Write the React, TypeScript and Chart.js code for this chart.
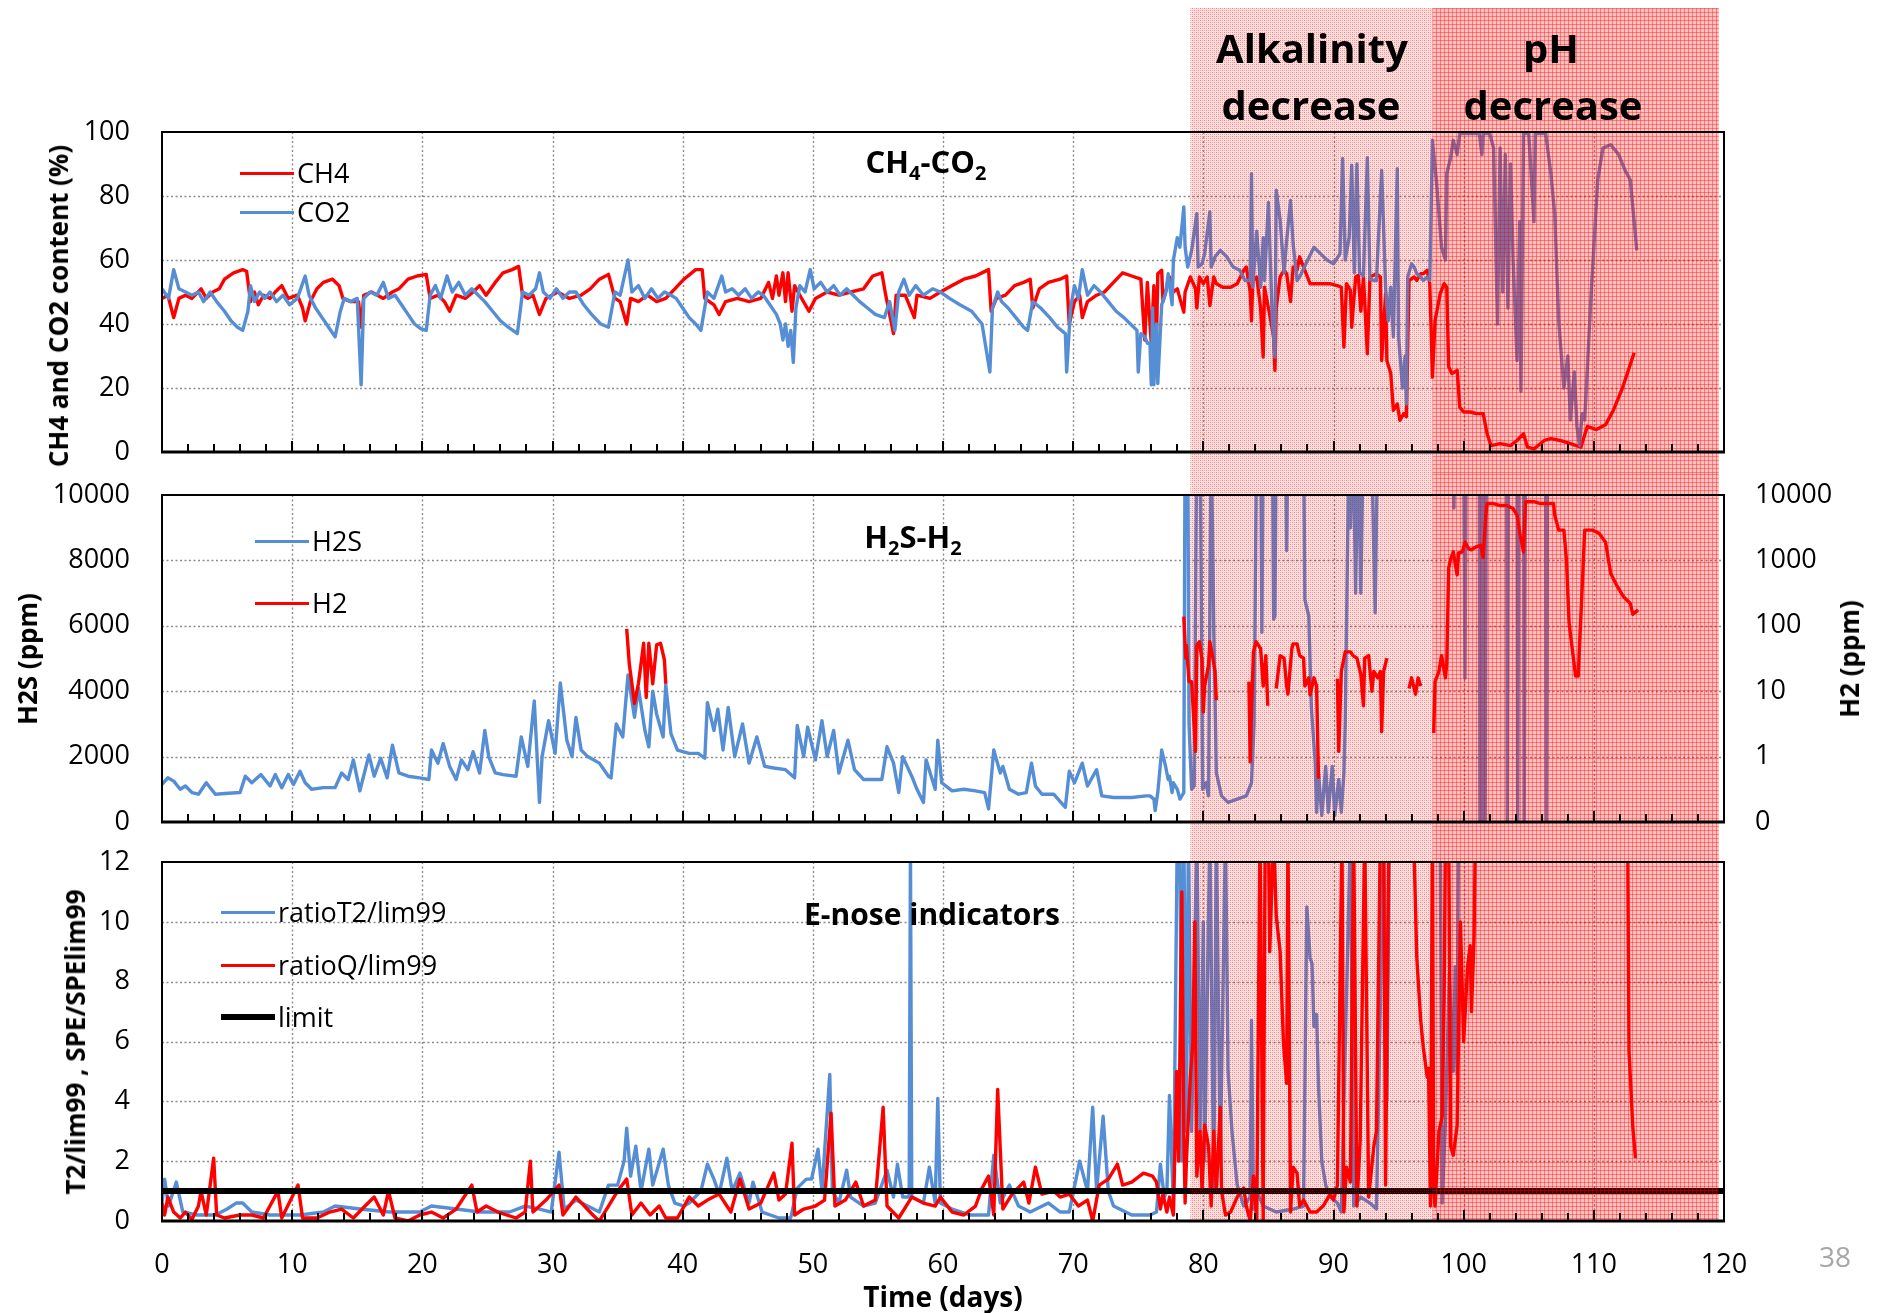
import React, { useEffect, useRef } from 'react';
import { Chart, registerables } from 'chart.js';

Chart.register(...registerables);

// ---------------- data ----------------
const X_MIN = 0;
const X_MAX = 120;
const X_STEP = 10;
const ALK_START = 79.0;
const ALK_END = 97.6;
const PH_END = 119.6;
const LIMIT_VALUE = 1;

const CH4_Y_TICKS = { min: 0, max: 100, step: 20 };
const H2S_Y_TICKS = { min: 0, max: 10000, step: 2000 };
const H2_LOG_TICKS = [0.1, 1, 10, 100, 1000, 10000];
const ENOSE_Y_TICKS = { min: 0, max: 12, step: 2 };

type P = [number, number | null];

const CH4: P[] = [
  [0,48],[0.45,49],[0.9,42],[1.3,48],[1.8,49],[2.3,48],[3.0,51],[3.4,48],[3.9,50],[4.4,51],[4.8,54],[5.5,56],[6.2,57],[6.5,56.5],[6.8,47],[7.1,50],[7.4,46],[7.8,49],[8.3,48],[8.7,50],[9.2,52],[9.7,48],[10.4,49],[10.8,45],[11.0,41],[11.4,47],[11.9,51],[12.4,53],[13.1,54],[13.6,52],[13.9,48],[14.5,47],[15.1,47],[15.3,39],[15.5,49],[16.1,50],[17.0,48],[17.7,50],[18.2,51],[18.9,54],[19.6,55],[20.3,55.5],[20.6,48],[21.2,49],[21.7,47],[22.1,44],[22.6,49],[23.3,48],[23.9,50],[24.4,52],[24.9,49],[25.6,53],[26.2,56],[26.9,57],[27.4,58],[27.7,49],[28.1,48],[28.5,49],[29.0,43],[29.5,48],[30.4,50],[31.3,48],[32.2,49],[32.9,51],[33.6,54],[34.3,55.5],[34.8,48],[35.2,47],[35.7,40],[36.0,48],[36.6,47],[37.3,49],[38.0,47],[38.7,48],[39.4,51],[40.1,54],[41.0,57],[41.5,57],[41.7,48],[42.4,46],[42.8,43],[43.3,47],[44.2,48],[45.1,47],[46.0,48],[46.6,53],[46.9,48],[47.2,55],[47.4,49],[47.7,56],[47.9,47],[48.1,56],[48.4,44],[48.6,52],[49.0,49],[49.7,44],[50.2,48],[51.1,50],[52.0,49],[52.9,50],[53.9,51],[54.6,55],[55.3,56],[55.6,49],[56.2,37],[56.4,49],[57.1,49],[57.8,42],[58.0,49],[59.0,48],[59.8,50],
  [60.7,52],[61.6,54],[62.5,55],[63.5,57],[63.7,44],[64.1,48],[64.8,49],[65.5,52],[66.2,53],[66.7,54],[66.9,45],[67.4,51],[68.1,53],[69.0,54],[69.5,55],[69.7,40],[70.1,47],[70.5,49],[70.7,42],[71.1,47],[71.8,49],[72.4,50],[73.1,53],[73.8,56],[74.5,55],[75.2,54],[75.5,35],[75.7,53],[76.0,34],[76.2,52],[76.4,34],[76.5,55.7],[76.8,56.8],[76.9,47],[77.2,51.5],[77.4,54.7],[77.7,50],[78.0,51],[78.2,48],[78.5,43.7],[78.6,50],[79.0,54.7],[79.4,51],[79.5,45],[79.7,54.7],[80.0,52.6],[80.3,54.7],[80.5,45.8],[80.8,54.7],[81.0,52.6],[81.5,51.5],[82.1,51.5],[82.6,52.6],[83.1,56.8],[83.3,57.8],[83.6,50],[83.7,41],[83.8,53.6],[84.1,54.7],[84.4,45],[84.6,29.7],[84.7,51.5],[85.0,45],[85.4,36],[85.5,25.5],[85.6,45],[85.9,54.7],[86.2,56.8],[86.4,55.7],[86.7,47],[86.9,57.8],[87.2,56.8],[87.4,61],[87.7,57.8],[87.9,55.7],[88.2,52.6],[88.7,52.6],[89.2,52.6],[89.7,52.6],[90.3,52],[90.6,51.5],[90.8,32.8],[91.0,52.6],[91.3,50.5],[91.4,39],[91.7,54.7],[91.9,55.2],[92.1,44],[92.3,54.7],[92.6,30.7],[92.8,54.7],[93.3,55.7],[93.6,54.7],[93.7,28.6],[94.0,49.5],[94.1,28.6],[94.4,24.5],[94.6,13],[94.9,15],[95.1,9.9],[95.4,12],[95.6,11],[95.8,53.6],[96.2,54.7],[96.4,53.6],[96.7,55.7],[96.9,55.7],[97.2,56.8],[97.4,52.6],[97.6,23.4],[97.8,41],[98.2,49.5],[98.5,52.6],[98.7,51.5],[98.85,26.6],[99.1,24.5],[99.5,25.5],[99.7,14],[100.0,12.5],[100.5,12.5],[101.0,12],[101.5,12],[101.8,5.7],[102.1,2],[102.8,2.6],[103.6,2],[104.1,3.6],[104.6,5.7],[104.9,1.5],[105.4,1],[106.2,3.6],[106.7,4.2],[107.4,3.6],[108.2,2.6],[109.0,1.5],[109.5,8],[110.2,7],[110.9,8.5],[111.5,13],[112.2,20],[113.1,31]
];

const CO2: P[] = [
  [0,51],[0.5,48],[0.9,57],[1.3,51],[1.8,50],[2.3,49],[2.8,50],[3.2,47],[3.7,50],[4.2,47],[4.8,44],[5.3,41],[5.8,39],[6.2,38],[6.6,44],[6.8,52],[7.1,47],[7.5,50],[7.9,48],[8.3,50],[8.8,47],[9.3,49],[9.8,46],[10.4,48],[11.0,55],[11.3,49],[11.8,45],[12.3,42],[12.8,39],[13.3,36],[13.7,44],[14.0,48],[14.5,47],[15.0,48],[15.3,21],[15.5,48],[16.0,50],[16.5,49],[17.0,53],[17.4,48],[17.9,49],[18.4,46],[18.9,43],[19.4,40],[19.9,38.5],[20.3,38],[20.6,49],[21.0,52],[21.4,48],[21.9,55],[22.3,50],[22.8,53],[23.3,49],[23.8,51],[24.3,49],[24.8,47],[25.4,44],[26.0,41],[26.6,39],[27.3,37],[27.7,50],[28.2,49],[28.7,51],[29.0,56],[29.3,50],[29.8,48],[30.3,51],[30.8,48],[31.3,50],[31.8,50],[32.4,46],[33.0,43],[33.7,40],[34.3,39],[34.8,50],[35.2,49],[35.8,60],[36.1,50],[36.6,52],[37.1,48],[37.6,51],[38.1,48],[38.6,50],[39.1,49],[39.5,48],[40.0,45],[40.5,42],[41.0,40],[41.4,38],[41.9,50],[42.4,48],[43.0,55],[43.3,50],[43.8,51],[44.3,49],[44.8,51],[45.3,48],[45.8,50],[46.2,49],[46.7,46],[47.2,43],[47.5,40],[47.7,35],[47.9,40],[48.1,33],[48.3,38],[48.5,28],[48.7,45],[49.0,52],[49.4,50],[49.8,57],[50.1,51],[50.6,53],[51.1,50],[51.6,52],[52.1,49],[52.6,51],[53.1,49],[53.6,47],[54.2,45],[54.8,43],[55.5,42],[55.9,47],[56.3,38],[56.6,50],[57.0,54],[57.4,49],[57.9,52],[58.5,49],[59.2,51],[59.8,50],
  [60.5,48],[61.3,46],[62.2,44],[63.0,40],[63.6,25],[63.8,45],[64.2,50],[64.5,47],[65.0,45],[65.6,42],[66.2,39],[66.5,38],[66.9,47],[67.5,45],[68.2,42],[68.8,39],[69.4,37],[69.5,25],[69.8,45],[70.1,52],[70.4,48],[70.7,57],[71.1,49],[71.6,52],[72.1,50],[72.7,47],[73.3,44],[73.9,42],[74.4,40],[74.9,38],[75.0,25],[75.2,37],[75.5,36],[75.7,34],[75.9,34],[76.0,21],[76.1,45],[76.2,21],[76.4,40],[76.5,21.4],[76.8,46],[77.1,49.5],[77.3,55.7],[77.6,46],[77.7,60],[78.0,67],[78.2,64],[78.5,76.6],[78.6,64],[78.8,57.8],[79.1,63],[79.5,74.5],[79.6,57.8],[79.9,58.8],[80.1,62],[80.5,75],[80.6,57.8],[80.9,61],[81.3,63],[81.8,61],[82.3,57.8],[82.8,56.8],[83.2,53.6],[83.6,53.6],[83.7,87],[83.8,51.5],[84.1,69],[84.4,51.5],[84.6,67],[84.7,53.6],[85.0,78],[85.3,41],[85.5,29.7],[85.6,81.8],[85.9,72.5],[86.2,56],[86.4,66],[86.7,78.6],[86.9,65],[87.2,53.6],[87.4,54.7],[87.9,59],[88.5,64],[89.0,62],[89.5,60],[90.0,58.8],[90.5,62],[90.7,91.7],[90.9,60],[91.2,67],[91.4,89.6],[91.6,56],[91.8,90],[92.0,56],[92.3,55],[92.6,92],[92.8,54],[93.1,53.6],[93.3,53.6],[93.7,88],[94.0,51.5],[94.2,41],[94.4,51.5],[94.6,36],[94.9,88.5],[95.0,36],[95.3,20],[95.5,30],[95.6,15],[95.7,54.7],[96.0,58.8],[96.2,57.8],[96.4,55.7],[96.7,54.7],[96.9,53.6],[97.2,54.7],[97.4,53.6],[97.6,97.4],[97.9,85],[98.3,64],[98.6,60],[98.7,87],[99.0,92],[99.2,97.4],[99.5,93],[99.7,99.5],[100.5,99.5],[101.2,99.5],[101.4,93],[101.5,99.5],[102.0,99.5],[102.3,95],[102.6,40],[102.8,95],[103.0,50],[103.2,93],[103.4,45],[103.6,90],[103.8,60],[104.1,28.6],[104.3,72],[104.4,19],[104.6,99.5],[105.0,99.5],[105.4,72],[105.5,99.5],[106.0,99.5],[106.3,99.5],[106.7,87],[107.0,74],[107.3,41],[107.7,20],[108.0,30],[108.2,10],[108.5,25],[108.7,8],[108.9,2],[109.1,12],[109.3,10],[109.8,50],[110.3,85],[110.7,95],[111.3,96],[111.9,93],[112.4,88],[112.8,85],[113.3,63]
];

const H2S: P[] = [
  [0,1150],[0.45,1350],[0.9,1250],[1.4,1000],[1.8,1100],[2.3,900],[2.8,850],[3.4,1200],[4.1,850],[5.1,880],[6.0,900],[6.4,1400],[6.9,1200],[7.6,1450],[8.3,1100],[8.7,1450],[9.2,1050],[9.7,1450],[10.1,1150],[10.6,1550],[11.0,1200],[11.5,1000],[12.4,1050],[13.3,1050],[13.8,1500],[14.3,1300],[14.7,1900],[15.2,950],[15.9,2050],[16.3,1400],[16.8,1950],[17.3,1350],[17.7,2350],[18.2,1500],[18.9,1400],[19.8,1350],[20.5,1300],[20.7,2200],[21.2,1800],[21.6,2400],[22.1,1700],[22.6,1300],[23.0,1900],[23.5,1600],[23.9,2150],[24.4,1500],[24.8,2800],[25.1,2000],[25.6,1500],[26.2,1450],[27.2,1400],[27.6,2600],[28.1,1700],[28.6,3700],[29.0,600],[29.2,2000],[29.7,3100],[30.2,2100],[30.6,4250],[31.1,2500],[31.5,2000],[31.8,3200],[32.2,2200],[32.7,2000],[33.6,1800],[34.3,1400],[34.5,1350],[34.9,3000],[35.4,2600],[35.8,4500],[36.3,3200],[36.6,4100],[37.1,2800],[37.4,2300],[37.7,4000],[38.0,3300],[38.5,2600],[38.7,4200],[39.1,2700],[39.6,2200],[40.5,2100],[41.2,2100],[41.7,1950],[41.9,3650],[42.4,2800],[42.7,3450],[43.1,2200],[43.5,3500],[44.0,2000],[44.6,3000],[45.1,1800],[45.7,2600],[46.3,1700],[47.0,1650],[47.9,1600],[48.6,1350],[48.8,2950],[49.3,2000],[49.6,2900],[50.2,1900],[50.7,3100],[51.1,2000],[51.6,2800],[52.0,1500],[52.7,2500],[53.2,1600],[53.9,1300],[55.3,1300],[55.7,2300],[56.2,1800],[56.6,900],[56.9,2000],[57.6,1400],[58.0,1000],[58.5,600],[58.7,1900],[59.4,1000],[59.6,2500],
  [59.9,1200],[60.7,950],[61.6,1000],[62.5,950],[63.2,900],[63.5,400],[63.9,2200],[64.4,1500],[64.6,1700],[65.1,1000],[65.8,850],[66.4,900],[66.8,1800],[67.1,1100],[67.6,850],[68.5,850],[69.4,450],[69.7,1550],[70.1,1200],[70.7,1800],[71.1,1100],[71.8,1600],[72.2,800],[73.1,750],[74.5,750],[75.6,800],[75.9,800],[76.2,700],[76.3,350],[76.5,900],[76.8,2200],[77.1,1700],[77.3,1300],[77.4,1400],[77.6,900],[77.7,1200],[78.0,1000],[78.2,700],[78.5,900],[78.6,12000],[78.8,12000],[78.9,3000],[79.1,1000],[79.3,1100],[79.5,12000],[79.75,12000],[79.95,1000],[80.2,1200],[80.4,800],[80.6,12000],[80.8,6000],[81.0,1500],[81.4,800],[81.9,600],[82.6,700],[83.3,800],[83.7,1200],[83.9,3000],[84.1,12000],[84.4,12000],[84.5,5800],[84.6,12000],[85.3,12000],[85.4,6200],[85.5,6300],[85.6,12000],[86.3,12000],[86.4,8300],[86.5,12000],[87.7,12000],[87.8,6800],[88.1,6300],[88.3,3500],[88.6,1800],[88.7,300],[88.85,1500],[89.1,200],[89.4,1700],[89.6,300],[89.9,1700],[90.1,200],[90.4,1300],[90.6,300],[90.8,1500],[90.9,3000],[91.2,12000],[91.3,9000],[91.5,12000],[91.7,7000],[91.9,12000],[92.1,7000],[92.3,12000],[92.9,12000],[93.2,6400],[93.4,12000],[99.2,12000],[99.25,9600],[99.3,12000],[100.0,12000],[100.1,4400],[100.2,12000],[101.2,12000],[101.25,0],[101.35,12000],[101.45,0],[101.55,12000],[101.65,0],[101.75,12000],[103.3,12000],[103.35,0],[103.45,12000],[104.1,12000],[104.15,0],[104.25,12000],[104.6,12000],[104.65,0],[104.75,12000],[106.3,12000],[106.35,0],[106.45,12000],[113.5,12000]
];

const H2: P[] = [
  [35.7,90],[35.9,26],[36.3,6.5],[36.6,13],[36.8,26],[37.0,54],[37.2,8],[37.4,54],[37.7,13],[38.0,51],[38.3,54],[38.6,30],[38.7,13],[38.8,null],
  [78.5,138],[78.65,32],[78.7,50],[78.9,14],[79.1,14],[79.4,1.2],[79.5,50],[79.7,57],[79.9,30],[80.0,4.8],[80.1,12],[80.4,25],[80.5,57],[80.7,35],[80.9,20],[81.0,7.3],[81.1,null],
  [83.5,14],[83.6,0.83],[83.7,4.8],[83.85,40],[84.05,57],[84.4,45],[84.6,12],[84.8,35],[84.95,6],[85.0,null],
  [85.6,11],[85.9,35],[86.2,32],[86.4,12],[86.5,9],[86.8,45],[86.9,53],[87.2,53],[87.4,35],[87.7,32],[87.8,12],[88.1,16],[88.2,8.8],[88.5,16],[88.7,12],[88.85,0.46],[88.9,null],
  [90.3,15.5],[90.4,1.2],[90.6,20],[90.9,40],[91.3,40],[91.5,35],[91.8,32],[92.1,18],[92.3,6],[92.4,32],[92.7,35],[92.95,10],[93.1,20],[93.4,16],[93.6,20],[93.7,2.4],[93.85,20],[94.1,32],[94.2,null],
  [95.8,11],[96.0,16],[96.3,9],[96.5,16],[96.7,12],[96.8,null],
  [97.7,2.3],[97.8,14],[98.1,20],[98.3,35],[98.6,16],[98.7,26],[98.85,760],[99.0,1050],[99.2,1350],[99.5,600],[99.6,1300],[99.9,1350],[100.1,1900],[100.4,1500],[100.6,1450],[100.9,1600],[101.3,1700],[101.5,1100],[101.7,4900],[101.8,7400],[102.3,7400],[102.8,6900],[103.3,6900],[103.8,6200],[104.1,4900],[104.35,2400],[104.6,1350],[104.75,7900],[105.4,7900],[105.9,7400],[106.4,7400],[106.9,7400],[107.0,4900],[107.3,2900],[107.7,2900],[107.9,1000],[108.1,110],[108.6,17],[108.8,17],[109.3,2900],[109.9,2900],[110.4,2600],[110.9,1900],[111.3,630],[111.8,400],[112.3,275],[112.8,220],[113.0,150],[113.4,175]
];

const T2: P[] = [
  [0,0.6],[0.2,1.4],[0.5,0.5],[1.1,1.3],[1.6,0.3],[2.7,0.2],[4.1,0.2],[5.0,0.4],[5.7,0.6],[6.2,0.6],[6.9,0.3],[8.3,0.2],[10.6,0.2],[12.4,0.3],[13.3,0.5],[15.2,0.4],[17.5,0.3],[19.8,0.3],[20.7,0.5],[22.6,0.4],[24.4,0.3],[26.7,0.3],[27.9,0.5],[29.0,0.4],[29.9,0.3],[30.5,2.3],[30.9,0.4],[31.8,0.7],[32.7,0.5],[33.6,0.3],[34.3,1.2],[35.0,1.2],[35.5,2.0],[35.7,3.1],[36.0,1.5],[36.4,2.5],[36.8,1.0],[37.4,2.4],[37.7,1.2],[38.5,2.4],[38.9,1.2],[39.4,0.6],[40.1,0.5],[40.5,0.6],[41.4,1.0],[41.9,1.9],[42.4,1.4],[42.8,0.9],[43.4,2.1],[43.8,1.0],[44.4,1.6],[45.1,0.6],[45.4,1.3],[46.1,0.3],[47.4,0.1],[48.3,0.1],[48.8,1.1],[49.5,1.4],[49.9,1.4],[50.4,2.4],[50.7,1.0],[51.3,4.9],[51.5,1.0],[52.0,0.6],[52.6,1.7],[52.9,0.8],[53.9,0.5],[54.8,0.6],[55.7,1.7],[56.2,0.8],[56.5,1.9],[56.9,0.8],[57.4,0.8],[57.5,12.5],[57.6,0.8],[58.5,0.6],[58.95,1.8],[59.4,0.6],[59.6,4.1],[59.8,0.6],[60.7,0.4],[62.1,0.2],[63.5,0.2],[63.9,2.2],[64.4,0.6],[65.1,1.2],[65.8,0.5],[66.7,0.3],[68.1,0.6],[69.0,0.3],[69.7,0.3],[70.5,2.0],[71.1,1.0],[71.5,3.8],[71.8,1.0],[72.3,3.5],[72.7,1.0],[73.1,0.5],[74.5,0.2],[75.9,0.2],[76.4,0.3],[76.7,1.9],[77.0,0.8],[77.2,1.0],[77.4,4.2],[77.7,0.5],
  [78.0,13],[78.2,13],[78.35,2],[78.5,13],[78.7,3],[78.85,13],[79.1,3],[79.5,13],[79.75,3],[80.0,10],[80.1,2],[80.5,13],[80.8,1],[81.0,13],[81.3,2],[81.7,13],[81.9,5],[82.2,3],[82.6,1.2],[83.1,0.5],[83.6,0.8],[83.7,6.7],[83.85,0.4],[84.1,1],[84.6,0.5],[85.6,0.3],[86.9,0.4],[87.7,0.5],[87.95,10.5],[88.2,8.8],[88.35,8.6],[88.5,6.5],[88.7,6.9],[88.85,4.5],[89.1,2],[89.4,1.2],[89.75,0.8],[90.3,0.6],[90.6,0.3],[91.3,13],[91.55,0.5],[92.1,0.8],[92.8,0.6],[93.3,0.4],[93.85,13],[94.1,4],[94.3,13],[98.2,13],[98.35,0.6],[98.6,3.3],[98.9,8.3],[99.2,5],[99.35,8.5],[99.5,4.9],[99.6,13],[113.5,13]
];

const Q: P[] = [
  [0,0.6],[0.2,0.2],[0.45,0.8],[0.9,0.3],[1.4,0.1],[1.8,0.3],[2.3,0.05],[2.8,0.5],[3.0,1.0],[3.4,0.2],[3.97,2.1],[4.2,0.2],[4.8,0.1],[6.0,0.2],[6.9,0.2],[7.8,0.1],[8.9,1.0],[9.2,0.1],[10.45,1.2],[10.8,0.1],[11.9,0.1],[12.9,0.3],[13.8,0.4],[14.7,0.1],[15.6,0.5],[16.3,0.8],[17.0,0.2],[17.4,1.0],[17.9,0.1],[18.9,0.0],[19.8,0.2],[20.7,0.3],[21.6,0.1],[22.6,0.4],[23.8,1.2],[24.2,0.3],[24.9,0.5],[25.8,0.3],[27.2,0.1],[27.9,0.3],[28.3,2.0],[28.5,0.3],[29.5,0.7],[30.5,1.2],[30.8,0.2],[31.8,0.8],[33.1,0.2],[33.6,0.0],[34.3,0.5],[35.0,1.0],[35.7,1.4],[36.1,0.2],[36.8,0.6],[37.5,0.2],[38.2,0.5],[38.7,0.1],[39.6,0.1],[40.5,0.8],[41.2,0.5],[41.9,0.7],[42.8,0.9],[43.7,0.3],[44.4,1.4],[45.1,0.4],[46.0,0.6],[47.0,1.6],[47.4,0.7],[47.9,0.9],[48.4,2.6],[48.6,0.2],[49.3,0.4],[50.2,0.5],[50.9,0.7],[51.4,3.6],[51.7,0.5],[52.5,0.7],[53.3,1.3],[53.9,0.5],[54.8,0.7],[55.4,3.8],[55.7,0.5],[56.6,0.1],[57.6,0.8],[58.5,0.6],[59.4,0.5],[59.8,0.8],[60.7,0.3],[61.6,0.2],[62.5,0.5],[63.0,1.1],[63.5,1.5],[63.9,0.2],[64.2,4.4],[64.6,0.4],[65.3,0.9],[66.2,1.3],[66.6,0.6],[67.1,1.8],[67.6,0.9],[68.5,1.0],[69.0,0.8],[69.7,0.9],[70.4,0.5],[71.1,0.7],[71.5,0.0],[72.0,1.2],[72.7,1.4],[73.4,1.9],[73.8,1.2],[74.5,1.3],[75.4,1.6],[76.1,1.5],[76.4,1.3],[76.7,0.4],[76.9,0.9],[77.2,0.3],[77.4,0.8],[77.7,0.2],
  [77.95,5],[78.1,2],[78.35,11],[78.5,3],[78.6,0.6],[78.7,2],[79.0,4.8],[79.2,6],[79.35,10],[79.5,1.5],[79.75,3],[79.9,1],[80.1,3.2],[80.4,2.5],[80.6,0.5],[80.8,3],[81.0,1],[81.3,3.8],[81.4,1],[81.7,0.2],[82.1,0.3],[82.6,0.8],[83.1,1.1],[83.3,0.5],[83.6,0],[83.85,1.5],[84.1,0],[84.35,13],[84.6,0],[84.75,13],[85.0,13],[85.1,9],[85.4,13],[85.6,10.2],[85.9,9],[86.15,6],[86.4,4.6],[86.5,13],[86.7,0.3],[86.9,1.8],[87.2,1.6],[87.4,0.5],[87.7,0.7],[88.2,0.3],[88.7,0.3],[89.2,0.5],[89.75,0.9],[90.0,0.7],[90.3,1.2],[90.65,13],[90.8,0.3],[91.0,1.8],[91.3,1.3],[91.55,13],[91.8,0.5],[92.05,2.7],[92.4,13],[92.7,0.8],[93.1,2.5],[93.3,3],[93.6,13],[93.85,13],[94.0,1.2],[94.25,13],[96.15,13],[96.4,8.8],[96.7,6.7],[96.9,5.8],[97.2,4.8],[97.3,5.1],[97.45,0.5],[97.6,13],[97.7,1],[97.8,0.5],[98.1,3],[98.35,3.5],[98.5,7.5],[98.6,13],[98.85,13],[99.0,2.5],[99.2,2.2],[99.5,3.2],[99.75,10],[100.0,6],[100.3,8.5],[100.5,9.2],[100.6,7],[100.8,9.5],[100.9,13],[112.6,13],[112.7,5.7],[113.0,3.1],[113.2,2.1]
];

const LIMIT: P[] = [[X_MIN, LIMIT_VALUE], [X_MAX, LIMIT_VALUE]];

// ---------------- styles ----------------
const RED = '#FF0000';
const BLUE = '#558ED5';
const GRID_COLOR = '#8c8c8c';
const W = 1879;
const H = 1313;
const PLOT_LEFT = 162;
const PLOT_RIGHT_GAP = 155;
const TICK_FONT = { family: "'Open Sans', 'Liberation Sans', sans-serif", size: 27 };
const LINE_W = 3.4;

const toXY = (arr: P[]) => arr.map(([x, y]) => ({ x, y }));

let alkPattern: CanvasPattern | null = null;
let phPattern: CanvasPattern | null = null;
function getPatterns(ctx: CanvasRenderingContext2D) {
  if (!alkPattern) {
    const c = document.createElement('canvas');
    c.width = 4; c.height = 4;
    const g = c.getContext('2d')!;
    g.fillStyle = 'rgba(255,0,0,0.12)'; g.fillRect(0, 0, 4, 4);
    g.fillStyle = 'rgba(255,0,0,0.42)'; g.fillRect(0, 0, 1, 1); g.fillRect(2, 2, 1, 1);
    g.fillStyle = 'rgba(255,0,0,0.28)'; g.fillRect(2, 0, 1, 1); g.fillRect(0, 2, 1, 1);
    alkPattern = ctx.createPattern(c, 'repeat');
  }
  if (!phPattern) {
    const c = document.createElement('canvas');
    c.width = 4; c.height = 4;
    const g = c.getContext('2d')!;
    g.fillStyle = 'rgba(255,0,0,0.24)'; g.fillRect(0, 0, 4, 4);
    g.fillStyle = 'rgba(255,0,0,0.38)'; g.fillRect(0, 0, 4, 1); g.fillRect(0, 0, 1, 4);
    phPattern = ctx.createPattern(c, 'repeat');
  }
  return { alk: alkPattern, ph: phPattern };
}

const gridPlugin = {
  id: 'dotGrid',
  beforeDatasetsDraw(chart: any) {
    const { ctx, chartArea: a } = chart;
    const xs = chart.scales.x;
    const ys = chart.scales.y;
    ctx.save();
    ctx.strokeStyle = GRID_COLOR;
    ctx.lineWidth = 1.4;
    ctx.setLineDash([2, 2.5]);
    ctx.beginPath();
    xs.ticks.forEach((t: any) => {
      const p = Math.round(xs.getPixelForValue(t.value)) + 0.5;
      if (p > a.left + 3 && p < a.right - 3) { ctx.moveTo(p, a.top); ctx.lineTo(p, a.bottom); }
    });
    ys.ticks.forEach((t: any) => {
      const p = Math.round(ys.getPixelForValue(t.value)) + 0.5;
      if (p > a.top + 3 && p < a.bottom - 3) { ctx.moveTo(a.left, p); ctx.lineTo(a.right, p); }
    });
    ctx.stroke();
    ctx.restore();
  },
};

const shadePlugin = {
  id: 'shade',
  afterDatasetsDraw(chart: any, _args: any, opts: any) {
    const { ctx, chartArea: a } = chart;
    const xs = chart.scales.x;
    const { alk, ph } = getPatterns(ctx);
    const top = opts.top ?? 0;
    const bottom = opts.toArea ? a.bottom : chart.height;
    const x1 = xs.getPixelForValue(ALK_START);
    const x2 = xs.getPixelForValue(ALK_END);
    const x3 = xs.getPixelForValue(PH_END);
    ctx.save();
    ctx.fillStyle = alk as any;
    ctx.fillRect(x1, top, x2 - x1, bottom - top);
    ctx.fillStyle = ph as any;
    ctx.fillRect(x2, top, x3 - x2, bottom - top);
    ctx.restore();
  },
};

const framePlugin = {
  id: 'frame',
  afterDraw(chart: any) {
    const { ctx, chartArea: a } = chart;
    const xs = chart.scales.x;
    ctx.save();
    ctx.setLineDash([]);
    ctx.strokeStyle = '#000';
    ctx.lineWidth = 2;
    ctx.beginPath();
    ctx.moveTo(a.left, a.bottom);
    ctx.lineTo(a.left, a.top);
    ctx.lineTo(a.right, a.top);
    ctx.lineTo(a.right, a.bottom);
    ctx.stroke();
    ctx.lineWidth = 3;
    ctx.beginPath();
    ctx.moveTo(a.left - 1, a.bottom);
    ctx.lineTo(a.right + 1, a.bottom);
    ctx.stroke();
    ctx.lineWidth = 2;
    ctx.beginPath();
    for (let d = X_MIN + 2; d < X_MAX; d += 2) {
      const px = Math.round(xs.getPixelForValue(d));
      const len = d % X_STEP === 0 ? 11 : 8;
      ctx.moveTo(px, a.bottom);
      ctx.lineTo(px, a.bottom - len);
    }
    ctx.stroke();
    ctx.restore();
  },
};

// Fixed axis boxes: no extra label-overflow padding so chart areas land exactly.
function fixBox(s: any, dims: { width?: number; height?: number }) {
  if (dims.width !== undefined) s.width = dims.width;
  if (dims.height !== undefined) s.height = dims.height;
  s.paddingTop = 0;
  s.paddingBottom = 0;
  s.paddingLeft = 0;
  s.paddingRight = 0;
}

function xAxis(showLabels: boolean, height: number) {
  return {
    type: 'linear',
    min: X_MIN,
    max: X_MAX,
    grid: { display: false, drawTicks: false },
    border: { display: false },
    ticks: {
      display: showLabels,
      stepSize: X_STEP,
      autoSkip: false,
      maxRotation: 0,
      padding: 28,
      color: '#000',
      font: TICK_FONT,
      callback: (v: any) => String(v),
    },
    afterFit: (s: any) => fixBox(s, { height }),
  };
}

function yAxis(t: { min: number; max: number; step: number }) {
  return {
    type: 'linear',
    position: 'left',
    min: t.min,
    max: t.max,
    grid: { display: false, drawTicks: false },
    border: { display: false },
    ticks: {
      stepSize: t.step,
      padding: 32,
      color: '#000',
      font: TICK_FONT,
      autoSkip: false,
      callback: (v: any) => String(v),
    },
    afterFit: (s: any) => fixBox(s, { width: PLOT_LEFT }),
  };
}

function lineDs(label: string, data: P[], color: string, width = LINE_W, yAxisID = 'y') {
  return {
    label,
    data: toXY(data),
    borderColor: color,
    backgroundColor: color,
    borderWidth: width,
    pointRadius: 0,
    tension: 0,
    spanGaps: false,
    fill: false,
    borderJoinStyle: 'round',
    yAxisID,
  };
}

function baseOptions(padding: any, scales: any, shade: any) {
  return {
    responsive: false,
    maintainAspectRatio: false,
    animation: false,
    events: [],
    layout: { padding },
    plugins: { legend: { display: false }, tooltip: { enabled: false }, title: { display: false }, shade },
    scales,
  };
}

const ABS: React.CSSProperties = { position: 'absolute', margin: 0, whiteSpace: 'nowrap' };
const OS = "'Open Sans', 'Liberation Sans', sans-serif";

function Txt({ cx, left, top, size, bold, color = '#000', children, family = OS }: any) {
  const style: React.CSSProperties = {
    ...ABS,
    top,
    fontFamily: family,
    fontSize: size,
    fontWeight: bold ? 700 : 400,
    lineHeight: 1,
    color,
  };
  if (cx !== undefined) {
    style.left = cx - 300;
    style.width = 600;
    style.textAlign = 'center';
  } else {
    style.left = left;
  }
  return <div style={style}>{children}</div>;
}

function VTitle({ cx, cy, children }: any) {
  return (
    <div
      style={{
        ...ABS,
        left: cx,
        top: cy,
        transform: 'translate(-50%, -50%) rotate(-90deg)',
        fontFamily: OS,
        fontWeight: 700,
        fontSize: 26,
        lineHeight: 1,
        color: '#000',
      }}
    >
      {children}
    </div>
  );
}

function LegendItem({ x1, x2, y, thick = 3, color, label, textLeft }: any) {
  return (
    <>
      <div style={{ position: 'absolute', left: x1, top: y - thick / 2, width: x2 - x1, height: thick, background: color }} />
      <Txt left={textLeft} top={y - 14} size={27}>{label}</Txt>
    </>
  );
}

const SUB: React.CSSProperties = { fontSize: 20, verticalAlign: -7 };

export default function App() {
  const r1 = useRef<HTMLCanvasElement>(null);
  const r2 = useRef<HTMLCanvasElement>(null);
  const r3 = useRef<HTMLCanvasElement>(null);

  useEffect(() => {
    const charts: Chart[] = [];
    const plugins = [gridPlugin, shadePlugin, framePlugin];

    charts.push(
      new Chart(r1.current!, {
        type: 'line',
        data: { datasets: [lineDs('CO2', CO2, BLUE), lineDs('CH4', CH4, RED)] as any },
        options: baseOptions(
          { top: 132, left: 0, right: PLOT_RIGHT_GAP, bottom: 0 },
          { x: xAxis(false, 22), y: yAxis(CH4_Y_TICKS) },
          { top: 8, toArea: false }
        ) as any,
        plugins: plugins as any,
      })
    );

    charts.push(
      new Chart(r2.current!, {
        type: 'line',
        data: { datasets: [lineDs('H2', H2, RED, LINE_W, 'y2'), lineDs('H2S', H2S, BLUE)] as any },
        options: baseOptions(
          { top: 21, left: 0, right: 0, bottom: 0 },
          {
            x: xAxis(false, 20),
            y: yAxis(H2S_Y_TICKS),
            y2: {
              type: 'logarithmic',
              position: 'right',
              min: H2_LOG_TICKS[0],
              max: H2_LOG_TICKS[H2_LOG_TICKS.length - 1],
              grid: { display: false, drawTicks: false },
              border: { display: false },
              afterBuildTicks: (s: any) => { s.ticks = H2_LOG_TICKS.map((v) => ({ value: v })); },
              ticks: {
                padding: 31,
                color: '#000',
                font: TICK_FONT,
                autoSkip: false,
                callback: (v: any) => (Number(v) === H2_LOG_TICKS[0] ? '0' : String(v)),
              },
              afterFit: (s: any) => fixBox(s, { width: PLOT_RIGHT_GAP }),
            },
          },
          { top: 0, toArea: false }
        ) as any,
        plugins: plugins as any,
      })
    );

    charts.push(
      new Chart(r3.current!, {
        type: 'line',
        data: {
          datasets: [lineDs('limit', LIMIT, '#000', 6), lineDs('ratioQ/lim99', Q, RED), lineDs('ratioT2/lim99', T2, BLUE)] as any,
        },
        options: baseOptions(
          { top: 20, left: 0, right: PLOT_RIGHT_GAP, bottom: 0 },
          { x: xAxis(true, 92), y: yAxis(ENOSE_Y_TICKS) },
          { top: 0, toArea: true }
        ) as any,
        plugins: plugins as any,
      })
    );

    return () => charts.forEach((c) => c.destroy());
  }, []);

  return (
    <div style={{ position: 'fixed', left: 0, top: 0, width: W, height: H, overflow: 'hidden', background: '#fff' }}>
      <canvas ref={r1} width={W} height={474} style={{ position: 'absolute', left: 0, top: 0 }} />
      <canvas ref={r2} width={W} height={368} style={{ position: 'absolute', left: 0, top: 474 }} />
      <canvas ref={r3} width={W} height={471} style={{ position: 'absolute', left: 0, top: 842 }} />

      {/* phase annotations */}
      <Txt cx={1312} top={27.5} size={40} bold>Alkalinity</Txt>
      <Txt cx={1311} top={84.5} size={40} bold>decrease</Txt>
      <Txt cx={1551} top={27.5} size={40} bold>pH</Txt>
      <Txt cx={1553} top={84.5} size={40} bold>decrease</Txt>

      {/* panel titles */}
      <Txt cx={926} top={146} size={31} bold>CH<span style={SUB}>4</span>-CO<span style={SUB}>2</span></Txt>
      <Txt cx={913} top={521} size={31} bold>H<span style={SUB}>2</span>S-H<span style={SUB}>2</span></Txt>
      <Txt cx={932} top={899} size={30} bold>E-nose indicators</Txt>

      {/* legends */}
      <LegendItem x1={240} x2={294} y={173} color={RED} label="CH4" textLeft={297} />
      <LegendItem x1={240} x2={294} y={212} color={BLUE} label="CO2" textLeft={297} />
      <LegendItem x1={255} x2={309} y={541} color={BLUE} label="H2S" textLeft={312} />
      <LegendItem x1={255} x2={309} y={603} color={RED} label="H2" textLeft={312} />
      <LegendItem x1={221} x2={275} y={912} color={BLUE} label="ratioT2/lim99" textLeft={278} />
      <LegendItem x1={221} x2={275} y={965} color={RED} label="ratioQ/lim99" textLeft={278} />
      <LegendItem x1={221} x2={275} y={1017} thick={6} color="#000" label="limit" textLeft={278} />

      {/* axis titles */}
      <VTitle cx={58} cy={306}>CH4 and CO2 content (%)</VTitle>
      <VTitle cx={27} cy={659}>H2S (ppm)</VTitle>
      <VTitle cx={1849} cy={659}>H2 (ppm)</VTitle>
      <VTitle cx={75} cy={1042}>T2/lim99 , SPE/SPElim99</VTitle>

      <Txt cx={943} top={1282} size={28} bold>Time (days)</Txt>
      <Txt cx={1835} top={1242} size={28} color="#a6a6a6">38</Txt>
    </div>
  );
}
